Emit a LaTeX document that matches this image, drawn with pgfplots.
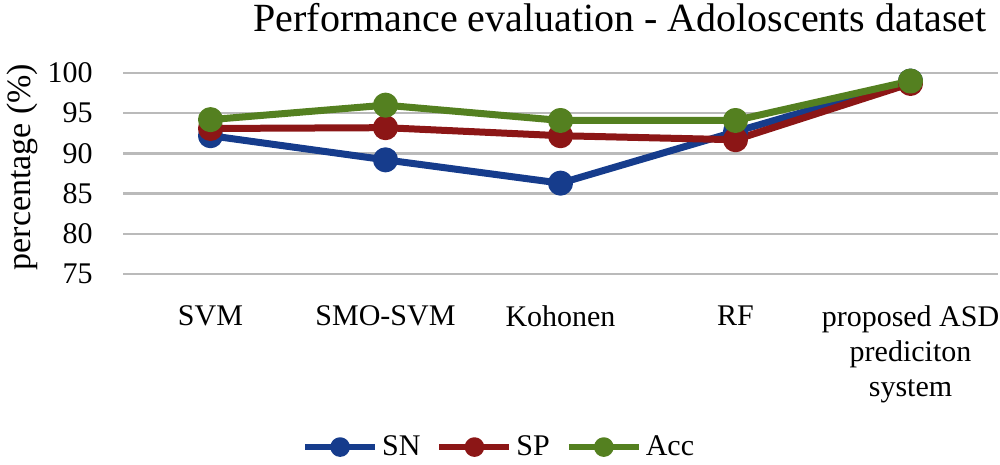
\documentclass[border=0pt]{standalone}
\usepackage{pgfplots}
\pgfplotsset{compat=1.18}
\usepackage{fontspec}
\setmainfont{Liberation Serif}
\definecolor{snblue}{RGB}{22,60,140}
\definecolor{spred}{RGB}{140,22,22}
\definecolor{accgreen}{RGB}{84,128,32}
\begin{document}
\begin{tikzpicture}
\useasboundingbox (-61.5pt,-95.5pt) rectangle (438.5pt,137pt);
\begin{axis}[
 at={(0,0)}, anchor=south west,
 scale only axis, width=437.5pt, height=100.5pt,
 xmin=-0.5, xmax=4.5, ymin=75, ymax=100,
 clip=false,
 xtick={0,...,4},
 xticklabels={SVM, SMO-SVM, Kohonen, RF, {proposed ASD\\prediciton\\system}},
 ytick={75,80,...,100},
 ymajorgrids, grid style={draw=black!27, line width=1.2pt},
 axis line style={draw=none},
 major tick length=0pt,
 tick label style={font=\fontsize{15}{17.5}\selectfont},
 xticklabel style={align=center, anchor=north, inner sep=0pt, yshift=-15.5pt},
 yticklabel style={anchor=east, inner sep=0pt, xshift=-15pt},
 /pgf/number format/assume math mode=true,
 ylabel={percentage (\%)},
 ylabel style={at={(axis description cs:-0.1154,0.532)}, anchor=center, font=\fontsize{17}{19}\selectfont},
 title={Performance evaluation - Adoloscents dataset},
 title style={at={(axis description cs:0.568,1.204)}, anchor=base, yshift=-6pt, font=\fontsize{20}{24}\selectfont},
 legend style={at={(axis description cs:0.431,-0.861)}, anchor=center, draw=none, legend columns=3, font=\fontsize{15}{17}\selectfont, /tikz/every even column/.append style={column sep=6pt}},
 legend image code/.code={\draw[mark repeat=2,mark phase=2,#1, line width=3pt, mark size=3.4pt] plot coordinates {(0pt,0pt)(17.5pt,0pt)(35pt,0pt)};},
]
\addplot[color=snblue, line width=3.5pt, line join=round, mark=*, mark size=4.5pt] coordinates {(0,92.2)(1,89.2)(2,86.3)(3,92.7)(4,99.0)};
\addlegendentry{SN}
\addplot[color=spred, line width=3.5pt, line join=round, mark=*, mark size=4.5pt] coordinates {(0,93.1)(1,93.2)(2,92.2)(3,91.7)(4,98.7)};
\addlegendentry{SP}
\addplot[color=accgreen, line width=3.5pt, line join=round, mark=*, mark size=4.5pt] coordinates {(0,94.2)(1,96.0)(2,94.1)(3,94.1)(4,99.0)};
\addlegendentry{Acc}
\end{axis}
\end{tikzpicture}
\end{document}
